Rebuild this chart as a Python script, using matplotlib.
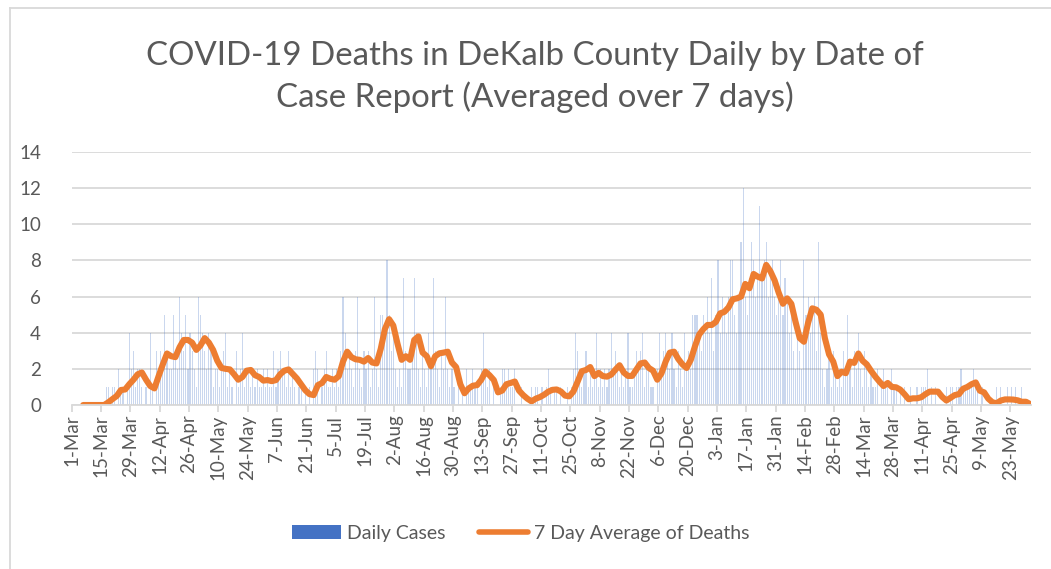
import matplotlib

matplotlib.use("Agg")
import matplotlib.pyplot as plt
import pandas as pd
from matplotlib.lines import Line2D
from matplotlib.patches import Patch

# Daily deaths, one value per day from 1-Mar-2020 (14 days per row)
daily_deaths = [
    0, 0, 0, 0, 0, 0, 0, 0, 0, 0, 0, 0, 0, 0,
    0, 0, 1, 1, 0, 1, 1, 0, 2, 1, 1, 0, 1, 4,
    2, 3, 1, 2, 2, 1, 0, 1, 0, 4, 1, 0, 3, 2,
    3, 2, 5, 3, 2, 2, 5, 3, 2, 6, 4, 3, 5, 2,
    4, 3, 2, 1, 6, 5, 4, 3, 2, 4, 3, 1, 2, 2,
    1, 2, 3, 4, 1, 2, 1, 0, 3, 1, 2, 4, 1, 2,
    2, 1, 2, 1, 2, 1, 1, 2, 1, 2, 1, 1, 3, 1,
    2, 3, 2, 2, 1, 3, 1, 2, 1, 0, 1, 1, 0, 1,
    0, 1, 0, 2, 3, 2, 0, 1, 2, 3, 1, 1, 2, 1,
    2, 1, 3, 6, 4, 2, 3, 2, 1, 3, 6, 2, 1, 3,
    2, 3, 1, 2, 6, 2, 1, 5, 5, 4, 8, 5, 3, 4,
    2, 1, 2, 1, 7, 3, 2, 2, 3, 7, 4, 2, 1, 3,
    2, 1, 4, 2, 7, 3, 2, 1, 3, 2, 6, 2, 1, 2,
    1, 0, 1, 0, 1, 0, 2, 1, 1, 2, 1, 1, 0, 2,
    4, 2, 1, 2, 0, 1, 0, 0, 1, 2, 2, 1, 2, 1,
    1, 2, 0, 0, 1, 0, 0, 0, 0, 1, 0, 1, 1, 0,
    1, 0, 1, 2, 1, 0, 1, 1, 0, 1, 0, 0, 1, 0,
    1, 2, 4, 3, 2, 1, 2, 3, 1, 2, 1, 2, 4, 1,
    2, 1, 2, 1, 2, 4, 2, 3, 2, 1, 2, 1, 2, 4,
    1, 1, 2, 3, 2, 3, 4, 1, 2, 2, 1, 1, 0, 2,
    4, 2, 3, 4, 3, 2, 4, 2, 1, 3, 2, 1, 4, 2,
    3, 2, 5, 5, 5, 4, 3, 5, 4, 6, 4, 7, 3, 5,
    8, 4, 6, 5, 4, 6, 8, 8, 5, 4, 6, 9, 12, 6,
    5, 7, 9, 8, 6, 7, 11, 7, 8, 9, 6, 7, 8, 6,
    5, 6, 8, 5, 7, 6, 4, 5, 3, 2, 4, 3, 2, 8,
    5, 6, 4, 5, 6, 3, 9, 4, 2, 1, 2, 3, 1, 3,
    2, 1, 2, 1, 3, 2, 5, 2, 1, 3, 2, 4, 2, 1,
    3, 2, 1, 2, 1, 1, 2, 0, 1, 2, 1, 1, 0, 2,
    1, 1, 0, 1, 0, 1, 0, 0, 1, 0, 0, 1, 0, 1,
    1, 1, 2, 0, 1, 0, 1, 0, 0, 0, 0, 1, 0, 1,
    1, 0, 1, 1, 2, 1, 1, 1, 1, 1, 2, 1, 1, 0,
    1, 0, 0, 0, 0, 0, 0, 1, 0, 1, 0, 0, 1, 0,
    1, 0, 1, 0, 0, 1, 0, 0, 0, 0,
]

# 7 day average, read every second day starting 6-Mar-2020
avg_deaths = [
    0, 0, 0, 0, 0, 0, 0.15, 0.33, 0.5, 0.83,
    0.86, 1.15, 1.4, 1.7, 1.8, 1.4, 1.05, 0.92, 1.6, 2.25,
    2.85, 2.7, 2.65, 3.2, 3.6, 3.6, 3.45, 3.05, 3.3, 3.7,
    3.45, 3.05, 2.45, 2.05, 2.0, 1.97, 1.7, 1.4, 1.55, 1.9,
    1.94, 1.65, 1.55, 1.35, 1.38, 1.32, 1.38, 1.7, 1.9, 1.97,
    1.72, 1.47, 1.15, 0.82, 0.6, 0.55, 1.1, 1.22, 1.55, 1.45,
    1.4, 1.6, 2.4, 2.95, 2.65, 2.53, 2.5, 2.4, 2.6, 2.35,
    2.3, 3.1, 4.2, 4.75, 4.4, 3.4, 2.5, 2.7, 2.5, 3.6,
    3.8, 2.9, 2.7, 2.15, 2.7, 2.86, 2.9, 2.95, 2.35, 2.1,
    1.15, 0.65, 0.92, 1.07, 1.1, 1.4, 1.85, 1.64, 1.38, 0.7,
    0.8, 1.15, 1.22, 1.3, 0.8, 0.55, 0.35, 0.2, 0.35, 0.44,
    0.57, 0.74, 0.84, 0.86, 0.75, 0.52, 0.48, 0.75, 1.3, 1.87,
    1.94, 2.1, 1.6, 1.78, 1.6, 1.57, 1.68, 1.95, 2.2, 1.8,
    1.61, 1.61, 1.95, 2.3, 2.35, 2.05, 1.9, 1.4, 1.75, 2.4,
    2.9, 2.95, 2.55, 2.25, 2.05, 2.5, 3.25, 3.9, 4.2, 4.43,
    4.43, 4.6, 5.07, 5.15, 5.4, 5.85, 5.9, 6.0, 6.7, 6.46,
    7.25, 7.1, 7.0, 7.75, 7.4, 6.9, 6.2, 5.6, 5.9, 5.6,
    4.6, 3.7, 3.5, 4.55, 5.35, 5.27, 5.0, 3.7, 2.8, 2.4,
    1.6, 1.84, 1.76, 2.4, 2.33, 2.85, 2.45, 2.25, 1.9, 1.58,
    1.3, 1.05, 1.22, 1.0, 0.98, 0.85, 0.6, 0.32, 0.37, 0.37,
    0.43, 0.6, 0.74, 0.74, 0.74, 0.45, 0.25, 0.4, 0.55, 0.6,
    0.9, 1.0, 1.15, 1.25, 0.79, 0.7, 0.35, 0.15, 0.1, 0.25,
    0.31, 0.31, 0.3, 0.26, 0.18, 0.18, 0.05,
]

tick_labels = [
    "1-Mar", "15-Mar", "29-Mar", "12-Apr", "26-Apr", "10-May", "24-May",
    "7-Jun", "21-Jun", "5-Jul", "19-Jul", "2-Aug", "16-Aug", "30-Aug",
    "13-Sep", "27-Sep", "11-Oct", "25-Oct", "8-Nov", "22-Nov", "6-Dec",
    "20-Dec", "3-Jan", "17-Jan", "31-Jan", "14-Feb", "28-Feb", "14-Mar",
    "28-Mar", "11-Apr", "25-Apr", "9-May", "23-May",
]

title = "COVID-19 Deaths in DeKalb County Daily by Date of\nCase Report (Averaged over 7 days)"

BLUE = "#4472C4"
ORANGE = "#ED7D31"
GREY_TEXT = "#595959"
GRID = "#d9d9d9"

plt.rcParams["font.family"] = ["Lato", "DejaVu Sans"]

days = pd.date_range("2020-03-01", periods=len(daily_deaths), freq="D")
half_day = pd.Timedelta(hours=12)
avg_days = pd.date_range("2020-03-06", periods=len(avg_deaths), freq="2D")
tick_days = pd.date_range("2020-03-01", periods=len(tick_labels), freq="14D")

fig = plt.figure(figsize=(10.51, 5.69), dpi=100)
ax = fig.add_axes([0.0682, 0.2882, 0.9130, 0.4447])

ax.bar(days + half_day, daily_deaths, width=0.55, color=BLUE, alpha=0.28, linewidth=0)
ax.plot(avg_days + half_day, avg_deaths, color=ORANGE, linewidth=4.4,
        solid_capstyle="round", solid_joinstyle="round")

ax.set_xlim(days[0], days[-1] + pd.Timedelta(days=1))
ax.set_ylim(0, 14)
ax.set_yticks(range(0, 15, 2))
ax.set_xticks(tick_days)
ax.set_xticklabels(tick_labels, rotation=90)

ax.grid(axis="y", color=GRID, linewidth=1.3)
ax.set_axisbelow(True)
for side in ("top", "right", "left"):
    ax.spines[side].set_visible(False)
ax.spines["bottom"].set_color(GRID)
ax.spines["bottom"].set_linewidth(1.3)
ax.tick_params(axis="x", colors=GRID, length=5, width=1.3, labelcolor=GREY_TEXT,
               labelsize=13.5, pad=2)
ax.tick_params(axis="y", length=0, labelcolor=GREY_TEXT, labelsize=13.5, pad=22)

fig.text(0.509, 0.864, title, ha="center", va="center", fontsize=23.8,
         color=GREY_TEXT, linespacing=1.4)

handles = [
    Patch(facecolor=BLUE, edgecolor="none"),
    Line2D([0], [0], color=ORANGE, linewidth=4.0, solid_capstyle="round"),
]
fig.legend(handles, ["Daily Cases", "7 Day Average of Deaths"], loc="center",
           bbox_to_anchor=(0.4955, 0.063), ncol=2, frameon=False, fontsize=14,
           labelcolor=GREY_TEXT, handlelength=2.5, handletextpad=0.3,
           columnspacing=1.75)

# chart area border (partially cut off in the screenshot)
fig.add_artist(Line2D([10 / 1051, 10 / 1051], [0, 1 - 8 / 569], color=GRID,
                      linewidth=1.3, transform=fig.transFigure))
fig.add_artist(Line2D([10 / 1051, 1], [1 - 8 / 569, 1 - 8 / 569], color=GRID,
                      linewidth=1.3, transform=fig.transFigure))

fig.savefig("out.png", dpi=100)
